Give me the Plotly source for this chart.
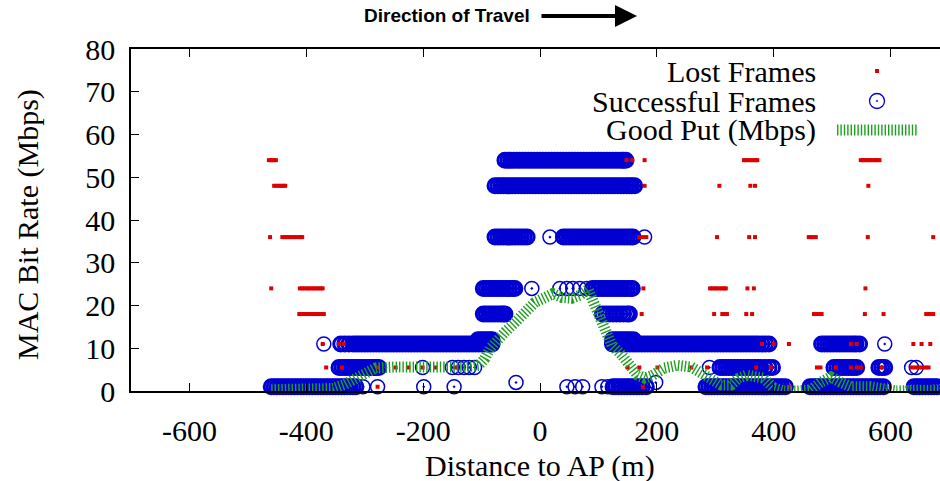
import plotly.graph_objects as go

# ---------------- data ----------------
# Successful frames: distance to AP (m), one list per MAC bit rate (Mbps)
ok_54 = [-60, -55, -50, -45, -40, -35, -30, -25, -20, -15, -10, -5, 0, 5, 10, 15, 20, 25, 30, 35,
         40, 45, 50, 55, 60, 65, 70, 75, 80, 85, 90, 95, 100, 105, 110, 115, 120, 125, 130, 135,
         140, 143, 147]
ok_48 = [-77, -72, -67, -62, -57, -52, -47, -42, -37, -32, -27, -22, -17, -12, -7, -2, 3, 8, 13, 18,
         23, 28, 33, 38, 43, 48, 53, 58, 63, 68, 73, 78, 83, 88, 93, 98, 103, 108, 113, 118,
         123, 128, 133, 138, 143, 148, 153, 157, 162]
ok_36 = [-77, -72, -67, -62, -57, -52, -47, -42, -37, -32, -27, -22, 17,
         40, 45, 50, 55, 60, 65, 70, 75, 80, 85, 90, 95, 100, 105, 110, 115, 120, 125, 130, 135,
         140, 145, 150, 155, 159, 179]
ok_24 = [-97, -92, -87, -82, -77, -72, -67, -62, -57, -52, -47, -43, -14,
         34, 46, 56, 68, 80, 90, 95, 100, 105, 110, 115, 120, 125, 130, 135, 140, 145, 150, 155, 158]
ok_18 = [-97, -92, -87, -82, -77, -72, -67, -63, -60,
         107, 113, 119, 125, 131, 137, 143, 149, 153]
ok_12 = [-106, -101, -96, -91, -86, -82,
         124, 129, 134, 139, 144, 149, 154, 160]
ok_11 = [-370, -341, -334, -327, -320, -315, -310, -305, -300, -295, -290, -285, -280, -275, -270,
         -265, -260, -255, -250, -245, -240, -235, -230, -225, -220, -215, -210, -205, -200, -195,
         -190, -185, -180, -175, -170, -165, -160, -155, -150, -145, -140, -135, -130, -125, -120,
         -115, -110, -105, -100, -95, -90, -85, -82,
         124, 129, 134, 139, 144, 149, 154, 159, 164, 169, 174, 179, 184, 189, 194, 199, 204, 209,
         214, 219, 224, 229, 234, 239, 244, 249, 254, 259, 264, 269, 274, 279, 284, 289, 294, 299,
         304, 309, 314, 319, 324, 329, 334, 339, 344, 349, 354, 359, 364, 369, 374, 380, 386, 392,
         482, 487, 492, 497, 502, 507, 512, 517, 522, 527, 532, 537, 541, 547, 590]
ok_5 = [-344, -339, -334, -329, -324, -319, -314, -309, -304, -299, -294, -289, -284, -281, -276,
        -201, -150, -140, -130, -121, -112,
        290, 308, 313, 318, 323, 328, 333, 338, 343, 348, 353, 358, 363, 368, 373, 378, 385, 392, 398,
        503, 508, 513, 518, 523, 528, 533, 537, 542, 580, 585, 590, 636, 644]
ok_2 = [-41, 198]
ok_1 = [-460, -455, -450, -445, -440, -435, -430, -425, -420, -415, -410, -405, -400, -395, -390,
        -385, -380, -375, -370, -365, -360, -355, -350, -345, -340, -335, -330, -325, -320, -315,
        -303, -278, -199, -147, 46, 60, 73,
        106, 116, 125, 130, 135, 140, 145, 150, 155, 160, 165, 170, 175, 182,
        284, 289, 294, 299, 304, 309, 314, 319, 324, 329, 334, 339, 344, 349, 354, 359, 364, 369,
        374, 379, 384, 389, 394, 399, 404, 409, 414, 420,
        462, 467, 472, 477, 482, 487, 492, 497, 502, 507, 512, 517, 522, 527, 532, 537, 542, 547,
        552, 557, 562, 567, 572, 577, 582, 588,
        640, 645, 650, 655, 660, 665, 670, 675, 680]

# Lost frames: distance to AP (m), one list per MAC bit rate (Mbps)
lost_54 = [-464, -460, -456, -452, 148, 158, 179, 349, 353, 357, 361, 365, 369, 372,
           549, 553, 557, 561, 565, 569, 573, 577, 581]
lost_48 = [-455, -451, -447, -443, -439, -436, 179, 307, 360, 368, 562]
lost_36 = [-462, -441, -437, -433, -429, -425, -421, -417, -413, -409, -407, 170, 176, 182, 303,
           358, 368, 460, 464, 468, 472, 561, 673]
lost_24 = [-460, -411, -407, -403, -399, -395, -391, -387, -383, -379, -375, -372, 177,
           291, 295, 299, 303, 307, 311, 315, 318, 355, 366, 557]
lost_18 = [-412, -408, -404, -400, -396, -392, -388, -384, -380, -376, -372, -370, 174, 298,
           312, 316, 320, 353, 363, 469, 473, 477, 482, 556, 588, 661, 665, 669, 673]
lost_11 = [-372, -344, -336, 380, 400, 426, 532, 542, 639, 653, 668]
lost_5 = [-366, -339, -278, -247, -225, -201, -179, -145, 150, 170, 201, 259, 286, 370, 395,
          474, 480, 506, 532, 542, 549, 585, 636, 642, 648, 654, 660, 665]
lost_1 = [-278, 176, 426]

# Good put (Mbps) versus distance (m)
gp_x = [-460, -420, -385, -365, -354, -335, -315, -298, -281, -250, -220, -190, -160, -130,
        -105, -95, -85, -77, -68, -60, -43, -26, -9, 9, 22, 37, 55, 68, 82, 94, 102, 111, 123,
        140, 153, 167, 179, 193, 213, 235, 259, 276, 293, 310, 327, 340, 354, 371, 383, 400,
        418, 440, 463, 480, 498, 515, 532, 566, 593, 610, 651, 684]
gp_y = [0.3, 0.3, 0.4, 0.5, 0.6, 1.5, 3.0, 4.4, 5.4, 5.6, 5.5, 5.7, 5.5, 5.6,
        6.0, 7.5, 10.0, 11.4, 12.6, 13.8, 16.0, 18.4, 20.7, 21.9, 22.8, 21.9, 21.7, 22.4, 23.8,
        20.0, 17.0, 13.8, 10.7, 8.4, 5.6, 3.7, 3.0, 3.7, 5.4, 6.0, 5.6, 4.4, 3.0, 1.4, 1.4,
        3.0, 3.7, 3.0, 3.0, 0.7, 0.0, 0.0, 0.2, 2.0, 3.3, 2.0, 1.0, 1.0, 0.2, 0.0, 0.2, 0.2]

x_ticks = [-600, -400, -200, 0, 200, 400, 600]
y_ticks = [0, 10, 20, 30, 40, 50, 60, 70, 80]

ok_levels = [(54, ok_54), (48, ok_48), (36, ok_36), (24, ok_24), (18, ok_18), (12, ok_12),
             (11, ok_11), (5.5, ok_5), (2, ok_2), (1, ok_1)]
lost_levels = [(54, lost_54), (48, lost_48), (36, lost_36), (24, lost_24), (18, lost_18),
               (11, lost_11), (5.5, lost_5), (1, lost_1)]

# style: circles inside dense runs get a heavier outline so runs read as solid bands
ok_x, ok_y, ok_w = [], [], []
for rate, xs in ok_levels:
    for i, x in enumerate(xs):
        dense = any(abs(x - o) <= 7 for j, o in enumerate(xs) if j != i)
        ok_x.append(x)
        ok_y.append(rate)
        ok_w.append(3 if dense else 1.5)
lost_x, lost_y = [], []
for rate, xs in lost_levels:
    lost_x += xs
    lost_y += [rate] * len(xs)

# ---------------- figure ----------------
BLUE = "rgb(0,0,210)"
RED = "rgb(220,0,0)"
GREEN = "rgb(30,160,30)"
SERIF = "Liberation Serif, Times New Roman, serif"
DASH = "1.4px,2px"

fig = go.Figure()
fig.add_trace(go.Scatter(
    x=ok_x, y=ok_y, mode="markers", name="Successful Frames", showlegend=False,
    cliponaxis=False,
    marker=dict(symbol="circle-open-dot", size=14, color=BLUE, line=dict(width=ok_w, color=BLUE))))
fig.add_trace(go.Scatter(
    x=lost_x, y=lost_y, mode="markers", name="Lost Frames", showlegend=False,
    cliponaxis=False,
    marker=dict(symbol="square", size=4, color=RED, line=dict(width=0))))
fig.add_trace(go.Scatter(
    x=gp_x, y=gp_y, mode="lines", name="Good Put (Mbps)", showlegend=False,
    line=dict(color=GREEN, width=11, dash=DASH)))

L, T, B = 131, 49, 90
W, H = 940, 481
PW, PH = W - L, H - T - B


def px(xp):
    return (xp - L) / PW


def py(yp):
    return (H - B - yp) / PH


annotations = [
    dict(text="Distance to AP (m)", x=px(540), y=py(466), xref="paper", yref="paper",
         showarrow=False, font=dict(family=SERIF, size=30, color="black"),
         xanchor="center", yanchor="middle"),
    dict(text="MAC Bit Rate (Mbps)", x=px(28), y=py(225), xref="paper", yref="paper",
         showarrow=False, textangle=-90, font=dict(family=SERIF, size=30, color="black"),
         xanchor="center", yanchor="middle"),
    dict(text="<b>Direction of Travel</b>", x=px(447), y=py(16), xref="paper", yref="paper",
         showarrow=False, font=dict(family="Liberation Sans, Arial, sans-serif", size=19, color="black"),
         xanchor="center", yanchor="middle"),
    dict(text="", x=px(637), y=py(16), xref="paper", yref="paper", showarrow=True,
         ax=-97, ay=0, axref="pixel", ayref="pixel", arrowhead=2, arrowsize=1.1,
         arrowwidth=4, arrowcolor="black", standoff=0, startstandoff=0),
]
for label, yp in [("Lost Frames", 71), ("Successful Frames", 101), ("Good Put (Mbps)", 130)]:
    annotations.append(dict(text=label, x=px(818), y=py(yp), xref="paper", yref="paper",
                            showarrow=False, xanchor="right", yanchor="middle",
                            font=dict(family=SERIF, size=30, color="black")))

shapes = [
    dict(type="rect", xref="paper", yref="paper", xsizemode="pixel", ysizemode="pixel",
         xanchor=px(877), yanchor=py(71), x0=-2, x1=2, y0=-2, y1=2,
         fillcolor=RED, line=dict(width=0)),
    dict(type="circle", xref="paper", yref="paper", xsizemode="pixel", ysizemode="pixel",
         xanchor=px(877), yanchor=py(101), x0=-7.5, x1=7.5, y0=-7.5, y1=7.5,
         line=dict(color=BLUE, width=1.3)),
    dict(type="circle", xref="paper", yref="paper", xsizemode="pixel", ysizemode="pixel",
         xanchor=px(877), yanchor=py(101), x0=-0.8, x1=0.8, y0=-0.8, y1=0.8,
         fillcolor=BLUE, line=dict(color=BLUE, width=0.5)),
    dict(type="line", xref="paper", yref="paper", x0=px(837), x1=px(917), y0=py(130), y1=py(130),
         line=dict(color=GREEN, width=11, dash=DASH)),
]

fig.update_layout(
    width=W, height=H,
    margin=dict(l=L, r=0, t=T, b=B),
    paper_bgcolor="white", plot_bgcolor="white",
    showlegend=False,
    annotations=annotations, shapes=shapes,
    xaxis=dict(range=[-700, 684.6], tickvals=x_ticks, ticktext=[str(v) for v in x_ticks],
               ticks="inside", ticklen=8, tickwidth=1.2, tickcolor="black",
               showline=True, linecolor="black", linewidth=1.5, mirror="ticks",
               showgrid=False, zeroline=False, ticklabelstandoff=12,
               tickfont=dict(family=SERIF, size=30, color="black")),
    yaxis=dict(range=[0, 80], tickvals=y_ticks, ticktext=[str(v) for v in y_ticks],
               ticks="inside", ticklen=8, tickwidth=1.2, tickcolor="black",
               showline=True, linecolor="black", linewidth=1.5, mirror=False,
               showgrid=False, zeroline=False, ticklabelstandoff=8,
               tickfont=dict(family=SERIF, size=30, color="black")),
)

fig.write_html(
    "out.html",
    config={"displayModeBar": False},
    post_script="document.body.style.margin='0';document.body.style.padding='0';"
                "document.body.style.overflow='hidden';",
)
